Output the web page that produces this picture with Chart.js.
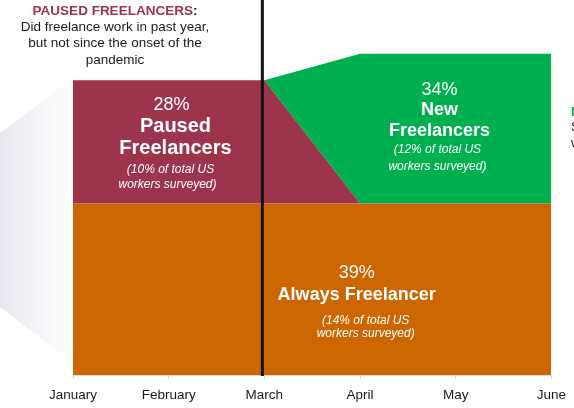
<!DOCTYPE html>
<html>
<head>
<meta charset="utf-8">
<title>Freelancers</title>
<script src="https://cdn.jsdelivr.net/npm/chart.js@4.4.1/dist/chart.umd.min.js"></script>
<style>
  body { margin: 0; background: #fff; }
  #wrap { width: 574px; height: 408px; position: relative; }
</style>
</head>
<body>
<div id="wrap"><canvas id="chart"></canvas></div>
<script>
const months = ["January", "February", "March", "April", "May", "June"];
const alwaysShare = [39, 39, 39, 39, 39, 39];
const pausedShare = [28, 28, 28, 0, 0, 0];
const newShare = [0, 0, 0, 34, 34, 34];
const yMax = 80;

const maroon = "#9c344b";
const green = "#00b050";
const orange = "#cc6600";
const ink = "#1a1a1a";
const font = "'Liberation Sans', Arial, sans-serif";

// text inside each band: dataset, category position, [text, font, dy, dx]
const bandLabels = [
  { ds: 1, at: 1.04, lines: [
    ["28%", "18px", -37, -1],
    ["Paused", "bold 20px", -15, 3],
    ["Freelancers", "bold 20px", 7, 3],
    ["(10% of total US", "italic 12px", 28, -2],
    ["workers surveyed)", "italic 12px", 43, -5]
  ]},
  { ds: 2, at: 3.83, lines: [
    ["34%", "18px", -39, 0],
    ["New", "bold 18px", -19, 0],
    ["Freelancers", "bold 18px", 2, 0],
    ["(12% of total US", "italic 12px", 21, -2],
    ["workers surveyed)", "italic 12px", 38, -2]
  ]},
  { ds: 0, at: 2.965, lines: [
    ["39%", "18px", -16, 0],
    ["Always Freelancer", "bold 18px", 6, 0],
    ["(14% of total US", "italic 12px", 31, 9],
    ["workers surveyed)", "italic 12px", 44, 9]
  ]}
];

const sideShade = {
  id: "sideShade",
  beforeDraw(chart) {
    const ctx = chart.ctx;
    const L = chart.chartArea.left;
    const g = ctx.createLinearGradient(0, 0, L, 0);
    g.addColorStop(0, "#e5e9ef");
    g.addColorStop(1, "#ffffff");
    ctx.save();
    ctx.fillStyle = g;
    ctx.beginPath();
    ctx.moveTo(0, 133);
    ctx.lineTo(L - 4, 82);
    ctx.lineTo(L - 4, 360);
    ctx.lineTo(0, 307);
    ctx.closePath();
    ctx.fill();
    ctx.restore();
  }
};

const marchLine = {
  id: "marchLine",
  afterDatasetsDraw(chart) {
    const { ctx, chartArea, scales: { x } } = chart;
    const px = x.getPixelForValue(2) - 2;
    ctx.save();
    ctx.strokeStyle = "#111";
    ctx.lineWidth = 3;
    ctx.beginPath();
    ctx.moveTo(px, 0);
    ctx.lineTo(px, chartArea.bottom + 1);
    ctx.stroke();
    ctx.restore();
  }
};

const bandText = {
  id: "bandText",
  afterDatasetsDraw(chart) {
    const { ctx, scales: { x, y } } = chart;
    const sets = chart.data.datasets;
    ctx.save();
    ctx.fillStyle = "#fff";
    ctx.textAlign = "center";
    ctx.textBaseline = "middle";
    bandLabels.forEach(b => {
      const i = Math.round(b.at);
      let base = 0;
      for (let k = 0; k < b.ds; k++) base += sets[k].data[i];
      const cy = y.getPixelForValue(base + sets[b.ds].data[i] / 2);
      const cx = x.getPixelForValue(b.at);
      b.lines.forEach(([text, f, dy, dx]) => {
        ctx.font = f + " " + font;
        ctx.fillText(text, cx + dx, cy + dy);
      });
    });
    ctx.restore();
  }
};

const notes = {
  id: "notes",
  afterDraw(chart) {
    const ctx = chart.ctx;
    ctx.save();
    ctx.textBaseline = "middle";
    // left note
    const cx = 115;
    ctx.font = "bold 13.5px " + font;
    const head = "PAUSED FREELANCERS";
    const w1 = ctx.measureText(head).width;
    const w2 = ctx.measureText(":").width;
    const x0 = cx - (w1 + w2) / 2;
    ctx.textAlign = "left";
    ctx.fillStyle = maroon;
    ctx.fillText(head, x0, 11);
    ctx.fillStyle = ink;
    ctx.fillText(":", x0 + w1, 11);
    ctx.font = "13.5px " + font;
    ctx.textAlign = "center";
    ["Did freelance work in past year,", "but not since the onset of the", "pandemic"]
      .forEach((t, k) => ctx.fillText(t, cx, 27 + k * 16.4));
    // right note, cut off by the edge
    ctx.textAlign = "left";
    ctx.font = "bold 13.5px " + font;
    ctx.fillStyle = green;
    ctx.fillText("NEW FREELANCERS:", 571, 112);
    ctx.font = "13.5px " + font;
    ctx.fillStyle = ink;
    ctx.fillText("Started freelancing", 571, 127);
    ctx.fillText("within the past year", 571, 143);
    ctx.restore();
  }
};

new Chart(document.getElementById("chart"), {
  type: "line",
  data: {
    labels: months,
    datasets: [
      { label: "Always Freelancer", data: alwaysShare, backgroundColor: orange, fill: "origin" },
      { label: "Paused Freelancers", data: pausedShare, backgroundColor: maroon, fill: "-1" },
      { label: "New Freelancers", data: newShare, backgroundColor: green, fill: "-1" }
    ]
  },
  options: {
    responsive: true,
    maintainAspectRatio: false,
    animation: false,
    layout: { padding: { left: 73, right: 22, top: 23, bottom: 0 } },
    elements: {
      line: { borderWidth: 0, borderColor: "rgba(0,0,0,0)", tension: 0 },
      point: { radius: 0, hoverRadius: 0 }
    },
    plugins: { legend: { display: false }, tooltip: { enabled: false } },
    scales: {
      x: {
        grid: { drawOnChartArea: false, tickLength: 4, color: "#d9d9d9" },
        border: { color: "#d9d9d9" },
        ticks: { color: ink, font: { family: font, size: 13.5 }, padding: 8, maxRotation: 0 },
        afterFit: s => { s.height = 33; }
      },
      y: { display: false, stacked: true, min: 0, max: yMax }
    }
  },
  plugins: [sideShade, marchLine, bandText, notes]
});
</script>
</body>
</html>
